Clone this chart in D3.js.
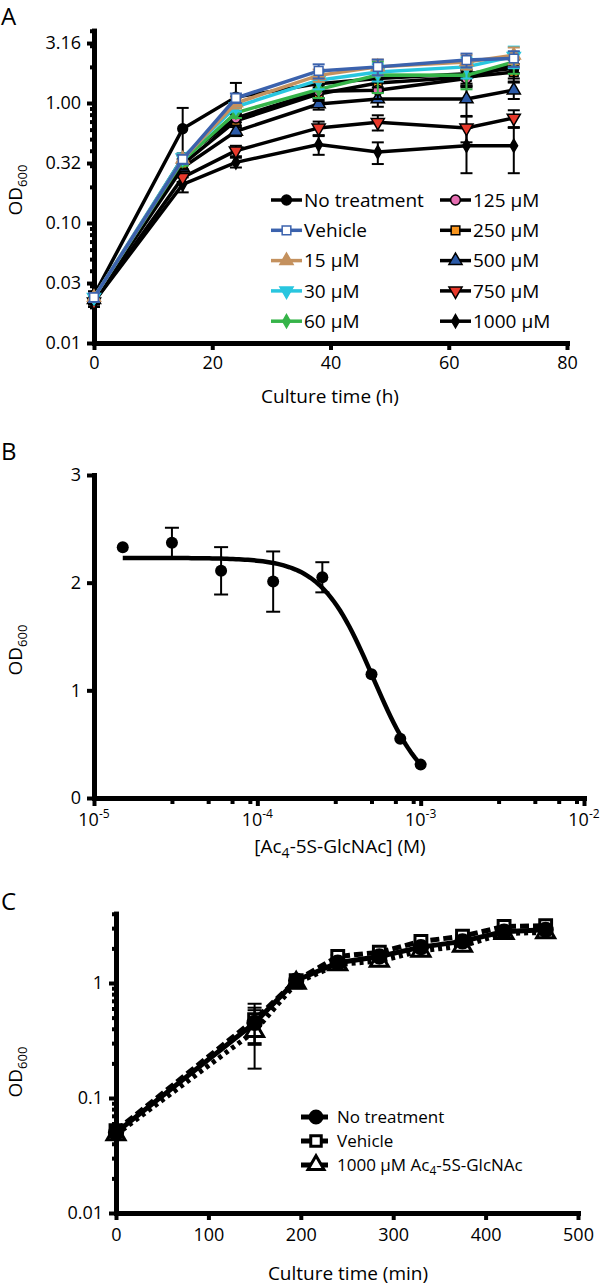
<!DOCTYPE html>
<html>
<head>
<meta charset="utf-8">
<script src="https://cdn.jsdelivr.net/npm/d3@7"></script>
<style>
  body { margin: 0; background: #fff; }
  text { font-family: "Open Sans", sans-serif; fill: #000; }
</style>
</head>
<body>
<svg id="chart" width="600" height="1286"></svg>
<script>
// ---------- Panel A data ----------
const hoursA = [0, 15, 24, 38, 48, 63, 71];
const namesA = ["No treatment", "Vehicle", "15 µM", "30 µM", "60 µM",
                "125 µM", "250 µM", "500 µM", "750 µM", "1000 µM"];
const odNoTreat = [0.025, 0.61, 1.12, 1.45, 1.60, 1.75, 1.95];
const odVehicle = [0.024, 0.34, 1.10, 1.85, 2.00, 2.28, 2.35];
const od15 = [0.024, 0.34, 1.00, 1.70, 2.00, 2.20, 2.50];
const od30 = [0.024, 0.35, 0.93, 1.55, 1.81, 2.00, 2.45];
const od60 = [0.024, 0.33, 0.83, 1.30, 1.71, 1.70, 2.20];
const od125 = [0.023, 0.35, 0.75, 1.25, 1.28, 1.60, 2.08];
const od250 = [0.023, 0.31, 0.71, 1.19, 1.47, 1.65, 1.81];
const od500 = [0.023, 0.29, 0.58, 0.98, 1.08, 1.08, 1.28];
const od750 = [0.022, 0.24, 0.40, 0.62, 0.69, 0.62, 0.75];
const od1000 = [0.022, 0.21, 0.32, 0.45, 0.39, 0.44, 0.44];
const sdNoTreat = [0.002, 0.30, 0.35, 0.20, 0.25, 0.30, 0.35];
const sdVehicle = [0.002, 0.03, 0.10, 0.25, 0.30, 0.30, 0.35];
const sd15 = [0.002, 0.03, 0.10, 0.20, 0.30, 0.30, 0.40];
const sd30 = [0.002, 0.03, 0.08, 0.25, 0.30, 0.40, 0.50];
const sd60 = [0.002, 0.03, 0.08, 0.20, 0.50, 0.40, 0.45];
const sd125 = [0.002, 0.03, 0.06, 0.15, 0.20, 0.25, 0.30];
const sd250 = [0.002, 0.03, 0.06, 0.15, 0.20, 0.25, 0.30];
const sd500 = [0.002, 0.02, 0.05, 0.10, 0.15, 0.30, 0.20];
const sd750 = [0.002, 0.02, 0.04, 0.08, 0.10, 0.15, 0.12];
const sd1000 = [0.002, 0.03, 0.03, 0.08, 0.08, 0.18, 0.18];
const yTicksA = [0.01, 0.0316, 0.1, 0.316, 1, 3.16];
const yTickLabelsA = ["0.01", "0.03", "0.10", "0.32", "1.00", "3.16"];
const xTicksA = [0, 20, 40, 60, 80];

// ---------- Panel B data ----------
const concB = [1.5e-5, 3e-5, 6e-5, 1.25e-4, 2.5e-4, 5e-4, 7.5e-4, 1e-3];
const odB = [2.33, 2.37, 2.11, 2.01, 2.05, 1.15, 0.55, 0.31];
const sdB = [0.0, 0.14, 0.22, 0.28, 0.14, 0.0, 0.0, 0.0];
// fitted dose-response curve parameters
const fitTop = 2.23, fitBottom = 0, fitIC50 = 5.12e-4, fitHill = 2.72;
const xTicksB = [1e-5, 1e-4, 1e-3, 1e-2];
const xTickExpB = ["-5", "-4", "-3", "-2"];
const yTicksB = [0, 1, 2, 3];

// ---------- Panel C data ----------
const minutesC = [0, 150, 195, 240, 285, 330, 375, 420, 465];
const namesC = ["No treatment", "Vehicle", "1000 µM Ac"];
const odC0 = [0.050, 0.45, 1.05, 1.50, 1.70, 2.05, 2.30, 2.80, 2.90];
const odC1 = [0.052, 0.48, 1.05, 1.70, 1.85, 2.30, 2.55, 3.10, 3.15];
const odC2 = [0.048, 0.38, 1.00, 1.45, 1.55, 1.90, 2.10, 2.70, 2.75];
const sdC0 = [0.004, 0.16, 0.12, 0.05, 0.05, 0.05, 0.05, 0.05, 0.05];
const sdC1 = [0.004, 0.18, 0.10, 0.05, 0.05, 0.05, 0.05, 0.05, 0.05];
const sdC2 = [0.004, 0.20, 0.10, 0.05, 0.05, 0.05, 0.05, 0.05, 0.05];
const yTicksC = [0.01, 0.1, 1];
const yTickLabelsC = ["0.01", "0.1", "1"];
const xTicksC = [0, 100, 200, 300, 400, 500];

// ---------- styles ----------
const stylesA = [
  { line: "#000", fill: "#000", stroke: "#000", sym: "circle" },
  { line: "#3b62ad", fill: "#fff", stroke: "#3b62ad", sym: "square" },
  { line: "#c4915e", fill: "#c4915e", stroke: "#c4915e", sym: "triangle" },
  { line: "#29c6df", fill: "#29c6df", stroke: "#29c6df", sym: "down" },
  { line: "#36b449", fill: "#36b449", stroke: "#36b449", sym: "diamond" },
  { line: "#000", fill: "#e56db1", stroke: "#000", sym: "circle" },
  { line: "#000", fill: "#f7941d", stroke: "#000", sym: "square" },
  { line: "#000", fill: "#2b5aa8", stroke: "#000", sym: "triangle" },
  { line: "#000", fill: "#e8392b", stroke: "#000", sym: "down" },
  { line: "#000", fill: "#000", stroke: "#000", sym: "diamond" }
];
const FONT = 18;

const svg = d3.select("#chart");

function symPath(kind, size) {
  const t = { circle: d3.symbolCircle, square: d3.symbolSquare, triangle: d3.symbolTriangle,
              down: d3.symbolTriangle, diamond: d3.symbolDiamond }[kind];
  return d3.symbol().type(t).size(size)();
}
function drawSym(g, kind, x, y, size, fill, stroke, sw) {
  g.append("path")
    .attr("d", symPath(kind, size))
    .attr("transform", `translate(${x},${y})` + (kind === "down" ? " rotate(180)" : ""))
    .attr("fill", fill).attr("stroke", stroke).attr("stroke-width", sw);
}
function styleAxis(g) {
  g.select(".domain").attr("stroke-width", 5).attr("stroke-linecap", "square");
  g.selectAll(".tick line").attr("stroke-width", 4);
  g.selectAll(".tick text").attr("font-size", FONT).attr("font-family", '"Open Sans", sans-serif').attr("fill", "#000");
}
function odLabel(x, y) {
  const t = svg.append("text").attr("transform", `translate(${x},${y}) rotate(-90)`)
    .attr("text-anchor", "middle").attr("font-size", FONT + 1);
  t.append("tspan").text("OD");
  t.append("tspan").attr("dy", 5).attr("font-size", 13).text("600");
}
function panelLetter(txt, y) {
  svg.append("text").attr("x", 1).attr("y", y).attr("font-size", 24).text(txt);
}
function minorLog(lo, hi, top) {
  const out = [];
  for (let e = lo; e <= hi; e++) {
    for (let m = 2; m <= 9; m++) {
      const v = m * Math.pow(10, e);
      if (v <= top) out.push(v);
    }
  }
  return out;
}

// ================= Panel A =================
const xA = d3.scaleLinear().domain([0, 80]).range([94, 567]);
const yA = d3.scaleLog().domain([0.01, 4]).range([343, 343 - 120 * Math.log10(400)]);

panelLetter("A", 25);
odLabel(22, 190);

svg.append("g").attr("transform", "translate(94,0)")
  .call(d3.axisLeft(yA).tickValues(minorLog(-2, 0, 4)).tickFormat("").tickSize(4).tickSizeOuter(0))
  .call(styleAxis);
svg.append("g").attr("transform", "translate(94,0)")
  .call(d3.axisLeft(yA).tickValues(yTicksA).tickFormat((d, i) => yTickLabelsA[i]).tickSize(7).tickSizeOuter(0).tickPadding(6))
  .call(styleAxis);
svg.append("g").attr("transform", "translate(0,343)")
  .call(d3.axisBottom(xA).tickValues(xTicksA).tickSize(7).tickSizeOuter(0).tickPadding(6))
  .call(styleAxis);
svg.append("text").attr("x", 330).attr("y", 403).attr("text-anchor", "middle")
  .attr("font-size", FONT + 1).text("Culture time (h)");

const odA = [odNoTreat, odVehicle, od15, od30, od60, od125, od250, od500, od750, od1000];
const sdA = [sdNoTreat, sdVehicle, sd15, sd30, sd60, sd125, sd250, sd500, sd750, sd1000];
const lineA = d3.line().x(d => xA(d.t)).y(d => yA(d.v));
const drawOrder = [9, 8, 7, 6, 5, 0, 4, 3, 2, 1];
const gA = svg.append("g");
drawOrder.forEach(k => {
  const pts = hoursA.map((t, i) => ({ t, v: odA[k][i], sd: sdA[k][i] }));
  const st = stylesA[k];
  const eg = gA.append("g");
  pts.forEach(p => {
    const lo = Math.max(p.v - p.sd, 0.0105), hi = p.v + p.sd;
    eg.append("line").attr("x1", xA(p.t)).attr("x2", xA(p.t)).attr("y1", yA(lo)).attr("y2", yA(hi))
      .attr("stroke", st.line).attr("stroke-width", 2);
    [lo, hi].forEach(v => eg.append("line").attr("x1", xA(p.t) - 6).attr("x2", xA(p.t) + 6)
      .attr("y1", yA(v)).attr("y2", yA(v)).attr("stroke", st.line).attr("stroke-width", 2));
  });
  gA.append("path").datum(pts).attr("d", lineA).attr("fill", "none")
    .attr("stroke", st.line).attr("stroke-width", 3.5);
  pts.forEach(p => drawSym(gA, st.sym, xA(p.t), yA(p.v), st.sym === "diamond" ? 50 : 75, st.fill, st.stroke, 1.5));
});

// legend A
namesA.forEach((name, i) => {
  const col = i < 5 ? 0 : 1, row = i % 5;
  const x0 = col === 0 ? 271 : 440, y = 200 + row * 30.3;
  const st = stylesA[i];
  svg.append("line").attr("x1", x0).attr("x2", x0 + 31).attr("y1", y).attr("y2", y)
    .attr("stroke", st.line).attr("stroke-width", 3.5);
  drawSym(svg, st.sym, x0 + 15.5, y, st.sym === "diamond" ? 50 : 75, st.fill, st.stroke, 1.5);
  svg.append("text").attr("x", x0 + 33).attr("y", y).attr("dy", "0.35em")
    .attr("font-size", FONT + 1).text(name);
});

// ================= Panel B =================
const xB = d3.scaleLog().domain([1e-5, 1e-2]).range([94, 584]);
const yB = d3.scaleLinear().domain([0, 3]).range([798, 475]);

panelLetter("B", 460);
odLabel(22, 650);

svg.append("g").attr("transform", "translate(94,0)")
  .call(d3.axisLeft(yB).tickValues(yTicksB).tickFormat(d3.format("d")).tickSize(7).tickSizeOuter(0).tickPadding(6))
  .call(styleAxis);
const minorB = [];
[-5, -4, -3].forEach(e => [3, 5, 7, 9].forEach(m => minorB.push(m * Math.pow(10, e))));
svg.append("g").attr("transform", "translate(0,798)")
  .call(d3.axisBottom(xB).tickValues(minorB).tickFormat("").tickSize(6).tickSizeOuter(0))
  .call(styleAxis);
svg.append("g").attr("transform", "translate(0,798)")
  .call(d3.axisBottom(xB).tickValues(xTicksB).tickFormat("").tickSize(8).tickSizeOuter(0))
  .call(styleAxis);
xTicksB.forEach((v, i) => {
  const t = svg.append("text").attr("x", xB(v)).attr("y", 826).attr("text-anchor", "middle")
    .attr("font-size", FONT);
  t.append("tspan").text("10");
  t.append("tspan").attr("dy", -8).attr("font-size", 12).text(xTickExpB[i]);
});
const tB = svg.append("text").attr("x", 340).attr("y", 853).attr("text-anchor", "middle")
  .attr("font-size", FONT + 1);
tB.append("tspan").text("[Ac");
tB.append("tspan").attr("dy", 5).attr("font-size", 14).text("4");
tB.append("tspan").attr("dy", -5).text("-5S-GlcNAc] (M)");

const curveX = d3.range(0, 101).map(i => Math.pow(10, Math.log10(concB[0]) + i / 100 * (Math.log10(1e-3) - Math.log10(concB[0]))));
const fitLine = d3.line().x(d => xB(d)).y(d => yB(fitBottom + (fitTop - fitBottom) / (1 + Math.pow(d / fitIC50, fitHill))));
svg.append("path").datum(curveX).attr("d", fitLine).attr("fill", "none")
  .attr("stroke", "#000").attr("stroke-width", 4.5);
concB.forEach((c, i) => {
  if (sdB[i] > 0) {
    const x = xB(c);
    svg.append("line").attr("x1", x).attr("x2", x).attr("y1", yB(odB[i] - sdB[i])).attr("y2", yB(odB[i] + sdB[i]))
      .attr("stroke", "#000").attr("stroke-width", 2);
    [odB[i] - sdB[i], odB[i] + sdB[i]].forEach(v => svg.append("line")
      .attr("x1", x - 7).attr("x2", x + 7).attr("y1", yB(v)).attr("y2", yB(v))
      .attr("stroke", "#000").attr("stroke-width", 2));
  }
  svg.append("circle").attr("cx", xB(c)).attr("cy", yB(odB[i])).attr("r", 6).attr("fill", "#000");
});

// ================= Panel C =================
const xC = d3.scaleLinear().domain([0, 500]).range([116, 578]);
const yC = d3.scaleLog().domain([0.01, 4]).range([1213, 1213 - 115 * Math.log10(400)]);

panelLetter("C", 910);
odLabel(22, 1072);

svg.append("g").attr("transform", "translate(116,0)")
  .call(d3.axisLeft(yC).tickValues(minorLog(-2, 0, 4)).tickFormat("").tickSize(4).tickSizeOuter(0))
  .call(styleAxis);
svg.append("g").attr("transform", "translate(116,0)")
  .call(d3.axisLeft(yC).tickValues(yTicksC).tickFormat((d, i) => yTickLabelsC[i]).tickSize(7).tickSizeOuter(0).tickPadding(6))
  .call(styleAxis);
svg.append("g").attr("transform", "translate(0,1213)")
  .call(d3.axisBottom(xC).tickValues(xTicksC).tickSize(7).tickSizeOuter(0).tickPadding(8))
  .call(styleAxis);
svg.append("text").attr("x", 348).attr("y", 1280).attr("text-anchor", "middle")
  .attr("font-size", FONT + 1).text("Culture time (min)");

const odC = [odC0, odC1, odC2];
const sdC = [sdC0, sdC1, sdC2];
const stylesC = [
  { sym: "circle", fill: "#000", dash: null },
  { sym: "square", fill: "#fff", dash: "9,4" },
  { sym: "triangle", fill: "#fff", dash: "4,4" }
];
const lineC = d3.line().x(d => xC(d.t)).y(d => yC(d.v));
[2, 1, 0].forEach(k => {
  const pts = minutesC.map((t, i) => ({ t, v: odC[k][i], sd: sdC[k][i] }));
  pts.forEach(p => {
    const x = xC(p.t), lo = p.v - p.sd, hi = p.v + p.sd;
    svg.append("line").attr("x1", x).attr("x2", x).attr("y1", yC(lo)).attr("y2", yC(hi))
      .attr("stroke", "#000").attr("stroke-width", 2);
    [lo, hi].forEach(v => svg.append("line").attr("x1", x - 7).attr("x2", x + 7)
      .attr("y1", yC(v)).attr("y2", yC(v)).attr("stroke", "#000").attr("stroke-width", 2));
  });
  svg.append("path").datum(pts).attr("d", lineC).attr("fill", "none")
    .attr("stroke", "#000").attr("stroke-width", 5).attr("stroke-dasharray", stylesC[k].dash);
  pts.forEach(p => drawSym(svg, stylesC[k].sym, xC(p.t), yC(p.v), 140, stylesC[k].fill, "#000", 3));
});

// legend C
namesC.forEach((name, i) => {
  const y = 1117 + i * 24;
  svg.append("line").attr("x1", 301).attr("x2", 328).attr("y1", y).attr("y2", y)
    .attr("stroke", "#000").attr("stroke-width", 5);
  drawSym(svg, stylesC[i].sym, 316, y, 110, stylesC[i].fill, "#000", 3);
  const t = svg.append("text").attr("x", 337).attr("y", y).attr("dy", "0.35em").attr("font-size", 17);
  t.append("tspan").text(name);
  if (i === 2) {
    t.append("tspan").attr("dy", 4).attr("font-size", 12).text("4");
    t.append("tspan").attr("dy", -4).text("-5S-GlcNAc");
  }
});
</script>
</body>
</html>
